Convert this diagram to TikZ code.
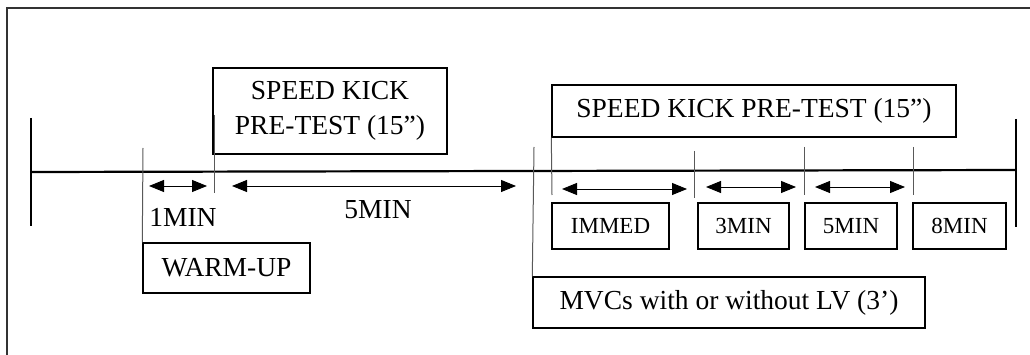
\documentclass[tikz,border=0pt]{standalone}
\usepackage{fontspec}
\setmainfont{Liberation Serif}
\usetikzlibrary{arrows.meta}
\tikzset{
  box/.style={draw=black, line width=1.4pt, rectangle, inner sep=0pt, minimum height=46pt, font=\fontsize{23}{28}\selectfont},
  bigbox/.style={draw=black, line width=1.4pt, rectangle, inner sep=0pt, font=\fontsize{27.5}{35}\selectfont, align=center},
  tick/.style={draw=black!65, line width=1pt},
  dur/.style={line width=0.9pt, {Triangle[length=15pt,width=12pt]}-{Triangle[length=15pt,width=12pt]}},
  lbl/.style={inner sep=0pt, font=\fontsize{27.5}{33}\selectfont},
  bar/.style={line width=2.6pt},
}
\begin{document}
\begin{tikzpicture}[x=1pt,y=-1pt]
\useasboundingbox (0,0) rectangle (1030,355);
% frame
\draw[line width=1.4pt, black!80] (7,355) -- (7,8) -- (1030,8);
% timeline
\coordinate (L) at (31,172);
\coordinate (R) at (1016,170);
\draw[line width=2.2pt] (L) -- (R);
\coordinate (Lt) at (31,118); \coordinate (Lb) at (31,226);
\coordinate (Rt) at (1016,119); \coordinate (Rb) at (1016,227);
\draw[bar] (Lt) -- (Lb);
\draw[bar] (Rt) -- (Rb);
% boxes
\node[bigbox, minimum width=234pt, minimum height=86pt] (pre1) at (330,111) {SPEED KICK\\PRE-TEST (15”)};
\node[bigbox, minimum width=404pt, minimum height=52pt] (pre2) at (754,111) {SPEED KICK PRE-TEST (15”)};
\node[bigbox, minimum width=167pt, minimum height=50pt] (warm) at (226.5,268) {WARM-UP};
\node[bigbox, minimum width=392pt, minimum height=51pt] (mvc) at (729,302.5) {MVCs with or without LV (3’)};
\node[box, minimum width=117pt] (immed) at (610.5,226) {IMMED};
\node[box, minimum width=91pt] (m3) at (743.5,226) {3MIN};
\node[box, minimum width=92pt] (m5) at (851,226) {5MIN};
\node[box, minimum width=93pt] (m8) at (959.5,226) {8MIN};
% ticks
\coordinate (t1) at (143,148);
\draw[tick] (t1) -- (warm.north west);
\coordinate (t2a) at (214,115); \coordinate (t2b) at (214,193);
\draw[tick] (t2a) -- (t2b);
\coordinate (t3) at (534,147);
\draw[tick] (t3) -- (mvc.north west);
\coordinate (t4) at (552,195);
\draw[tick] (pre2.south west) -- (t4);
\coordinate (t5a) at (694,151); \coordinate (t5b) at (694,198);
\draw[tick] (t5a) -- (t5b);
\coordinate (t6a) at (804,147); \coordinate (t6b) at (804,195);
\draw[tick] (t6a) -- (t6b);
\coordinate (t7a) at (913,147); \coordinate (t7b) at (913,195);
\draw[tick] (t7a) -- (t7b);
% duration arrows
\coordinate (a1) at (149,186); \coordinate (b1) at (207,186);
\draw[dur] (a1) -- (b1);
\coordinate (a2) at (232,186); \coordinate (b2) at (516,186);
\draw[dur] (a2) -- (b2);
\coordinate (a3) at (562,189); \coordinate (b3) at (687,189);
\draw[dur] (a3) -- (b3);
\coordinate (a4) at (706,187); \coordinate (b4) at (796,187);
\draw[dur] (a4) -- (b4);
\coordinate (a5) at (815,187); \coordinate (b5) at (905,187);
\draw[dur] (a5) -- (b5);
% labels
\node[lbl] (l1) at (183,217) {1MIN};
\node[lbl] (l5) at (378,210) {5MIN};
\end{tikzpicture}
\end{document}
